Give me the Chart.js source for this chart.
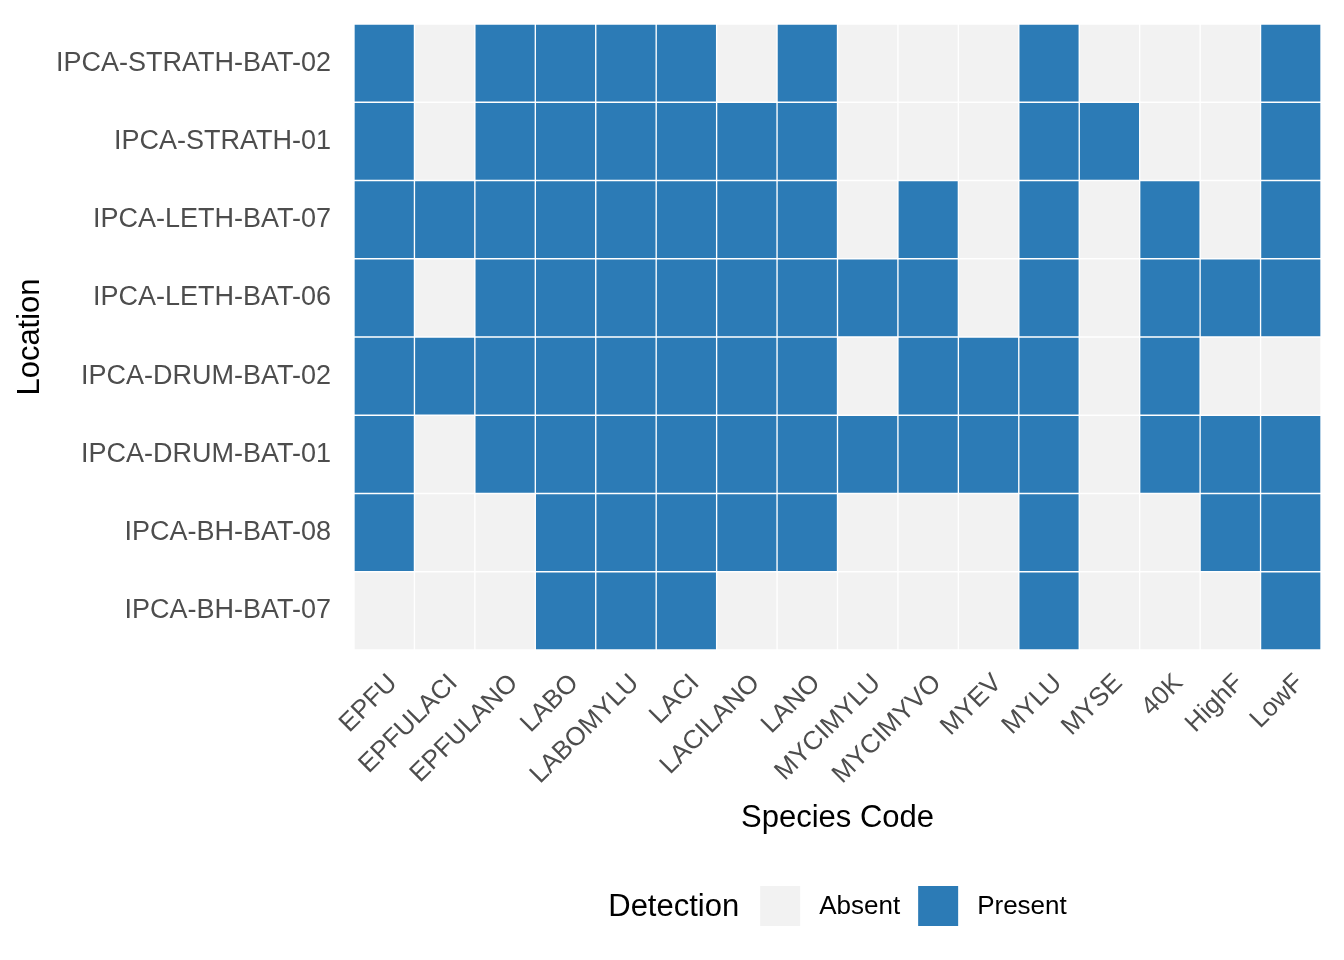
<!DOCTYPE html>
<html>
<head>
<meta charset="utf-8">
<script src="https://cdn.jsdelivr.net/npm/chart.js@4.4.1/dist/chart.umd.min.js"></script>
<style>
  html, body { margin: 0; padding: 0; background: #fff; }
</style>
</head>
<body>
<canvas id="heat" width="1344" height="960"></canvas>
<script>
// categories
const speciesCodes = ["EPFU", "EPFULACI", "EPFULANO", "LABO", "LABOMYLU", "LACI", "LACILANO", "LANO",
  "MYCIMYLU", "MYCIMYVO", "MYEV", "MYLU", "MYSE", "40K", "HighF", "LowF"];
// bottom to top
const locations = ["IPCA-BH-BAT-07", "IPCA-BH-BAT-08", "IPCA-DRUM-BAT-01", "IPCA-DRUM-BAT-02",
  "IPCA-LETH-BAT-06", "IPCA-LETH-BAT-07", "IPCA-STRATH-01", "IPCA-STRATH-BAT-02"];

// 1 = Present, 0 = Absent (same order as speciesCodes)
const bhBat07     = [0,0,0,1,1,1,0,0,0,0,0,1,0,0,0,1];
const bhBat08     = [1,0,0,1,1,1,1,1,0,0,0,1,0,0,1,1];
const drumBat01   = [1,0,1,1,1,1,1,1,1,1,1,1,0,1,1,1];
const drumBat02   = [1,1,1,1,1,1,1,1,0,1,1,1,0,1,0,0];
const lethBat06   = [1,0,1,1,1,1,1,1,1,1,0,1,0,1,1,1];
const lethBat07   = [1,1,1,1,1,1,1,1,0,1,0,1,0,1,0,1];
const strath01    = [1,0,1,1,1,1,1,1,0,0,0,1,1,0,0,1];
const strathBat02 = [1,0,1,1,1,1,0,1,0,0,0,1,0,0,0,1];
const presenceRows = [bhBat07, bhBat08, drumBat01, drumBat02, lethBat06, lethBat07, strath01, strathBat02];

const detectionLevels = ["Absent", "Present"];
const levelColors = ["#F2F2F2", "#2C7BB6"];

const FONT = "'Liberation Sans', Arial, sans-serif";
Chart.defaults.font.family = FONT;

// legend drawn inline like ggplot (title to the left of keys)
const detectionLegend = {
  id: "detectionLegend",
  afterDraw(chart) {
    const ctx = chart.ctx;
    const area = chart.chartArea;
    const cy = 906;
    const box = 40;
    ctx.save();
    ctx.textBaseline = "middle";
    ctx.textAlign = "left";
    ctx.font = "31px " + FONT;
    const wTitle = ctx.measureText("Detection").width;
    ctx.font = "26px " + FONT;
    const wLabels = detectionLevels.map(l => ctx.measureText(l).width);
    const total = wTitle + 21 + (box + 19) * 2 + wLabels[0] + 18 + wLabels[1];
    let x = (area.left + area.right) / 2 - total / 2;

    ctx.fillStyle = "#000";
    ctx.font = "31px " + FONT;
    ctx.fillText("Detection", x, cy + 1);
    x += wTitle + 21;
    ctx.font = "26px " + FONT;
    detectionLevels.forEach((lab, i) => {
      ctx.fillStyle = levelColors[i];
      ctx.fillRect(x, cy - box / 2, box, box);
      x += box + 19;
      ctx.fillStyle = "#000";
      ctx.fillText(lab, x, cy + 1);
      x += wLabels[i] + 18;
    });
    ctx.restore();
  }
};

const datasets = presenceRows.map((row, i) => ({
  label: locations[i],
  data: row.map(() => 1),
  backgroundColor: row.map(v => levelColors[v]),
  borderColor: "#ffffff",
  borderWidth: 1,
  borderSkipped: false,
  barPercentage: 1,
  categoryPercentage: 1,
  stack: "grid"
}));

new Chart(document.getElementById("heat"), {
  type: "bar",
  data: { labels: speciesCodes, datasets },
  options: {
    responsive: false,
    animation: false,
    devicePixelRatio: 1,
    layout: { padding: { top: 24, right: 23, bottom: 100, left: 0 } },
    plugins: {
      legend: { display: false },
      tooltip: { enabled: false }
    },
    scales: {
      x: {
        stacked: true,
        grid: { display: false },
        border: { display: false },
        ticks: {
          color: "#4D4D4D",
          font: { size: 26 },
          minRotation: 45,
          maxRotation: 45,
          autoSkip: false,
          padding: 10,
          labelOffset: 9
        },
        title: {
          display: true,
          text: "Species Code",
          color: "#000",
          font: { size: 31 },
          padding: { top: 4, bottom: 23 }
        },
        afterFit(scale) { scale.height = 210; }
      },
      y: {
        stacked: true,
        min: 0,
        max: presenceRows.length,
        grid: { display: false },
        border: { display: false },
        afterBuildTicks(scale) {
          scale.ticks = locations.map((_, i) => ({ value: i + 0.5 }));
        },
        ticks: {
          color: "#4D4D4D",
          font: { size: 27 },
          padding: 15,
          callback: v => locations[Math.floor(v)]
        },
        title: {
          display: true,
          text: "Location",
          color: "#000",
          font: { size: 31 },
          padding: { top: 12, bottom: 0 }
        },
        afterFit(scale) {
          scale.width = 354;
          scale.paddingTop = 0;
          scale.paddingBottom = 0;
        }
      }
    }
  },
  plugins: [detectionLegend]
});
</script>
</body>
</html>
